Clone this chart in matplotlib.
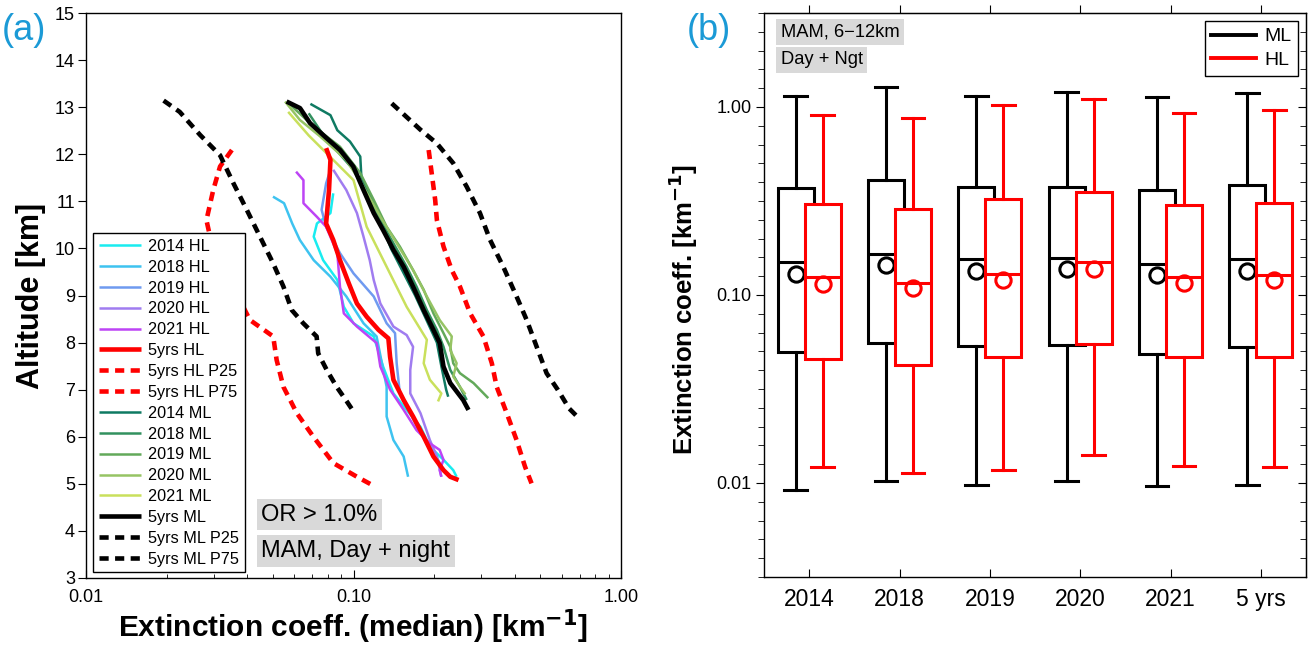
import numpy as np
import matplotlib
matplotlib.use("Agg")
import matplotlib.pyplot as plt
from matplotlib.ticker import FixedLocator, FormatStrFormatter, NullFormatter, LogLocator
from matplotlib.lines import Line2D

matplotlib.rcParams['font.family'] = ['Liberation Sans', 'DejaVu Sans']

# ---------------- (a) vertical profiles of median extinction ----------------
# HL yearly profiles
alt_hl_2014 = [11.17, 10.75, 10.53, 10.25, 9.75, 9.33, 8.76, 8.41, 8.13, 7.49, 6.92, 6.57, 6.21, 5.79, 5.51, 5.29, 5.15]
ext_hl_2014 = [0.084, 0.082, 0.073, 0.071, 0.077, 0.087, 0.092, 0.100, 0.119, 0.129, 0.141, 0.158, 0.178, 0.193, 0.217, 0.236, 0.243]
alt_hl_2018 = [11.10, 10.96, 10.53, 10.18, 9.75, 9.40, 8.98, 8.41, 8.13, 7.63, 7.06, 6.43, 5.93, 5.58, 5.15]
ext_hl_2018 = [0.050, 0.055, 0.059, 0.063, 0.071, 0.082, 0.094, 0.109, 0.122, 0.127, 0.133, 0.133, 0.141, 0.154, 0.160]
alt_hl_2019 = [11.67, 11.38, 10.82, 10.46, 9.90, 9.47, 8.98, 8.41, 8.20, 7.56, 6.92, 6.50, 6.07, 5.72, 5.44]
ext_hl_2019 = [0.082, 0.079, 0.076, 0.079, 0.089, 0.100, 0.119, 0.133, 0.143, 0.145, 0.149, 0.163, 0.178, 0.199, 0.210]
alt_hl_2020 = [11.67, 11.24, 10.75, 10.25, 9.75, 9.33, 8.83, 8.34, 8.16, 7.91, 7.42, 6.92, 6.50, 5.93, 5.58, 5.15]
ext_hl_2020 = [0.084, 0.094, 0.103, 0.109, 0.115, 0.119, 0.126, 0.141, 0.158, 0.167, 0.163, 0.163, 0.178, 0.193, 0.205, 0.213]
alt_hl_2021 = [11.63, 11.45, 10.96, 10.67, 10.46, 9.90, 9.19, 8.62, 8.34, 7.99, 7.49, 7.00, 6.57, 6.14, 5.86, 5.72, 5.51, 5.29, 5.15]
ext_hl_2021 = [0.061, 0.065, 0.065, 0.073, 0.079, 0.087, 0.089, 0.092, 0.103, 0.122, 0.126, 0.137, 0.154, 0.172, 0.193, 0.210, 0.217, 0.210, 0.213]
alt_hl_5yrs = [12.13, 11.88, 11.24, 10.53, 10.18, 9.75, 9.26, 8.83, 8.55, 8.27, 8.09, 7.70, 7.21, 6.78, 6.43, 6.00, 5.58, 5.29, 5.15, 5.08]
ext_hl_5yrs = [0.079, 0.082, 0.081, 0.079, 0.084, 0.089, 0.096, 0.103, 0.112, 0.124, 0.135, 0.137, 0.141, 0.154, 0.167, 0.183, 0.199, 0.217, 0.230, 0.247]
alt_hl_p25 = [12.09, 11.74, 11.24, 10.60, 10.25, 9.82, 9.40, 8.90, 8.48, 8.13, 7.63, 7.06, 6.50, 6.00, 5.44, 5.15, 4.98]
ext_hl_p25 = [0.0351, 0.0317, 0.0299, 0.0282, 0.0291, 0.0317, 0.0345, 0.0376, 0.0410, 0.0501, 0.0516, 0.0547, 0.0614, 0.0708, 0.0841, 0.103, 0.117]
alt_hl_p75 = [12.09, 11.60, 11.03, 10.60, 10.04, 9.54, 9.19, 8.62, 8.13, 7.56, 7.06, 6.50, 5.93, 5.36, 5.01]
ext_hl_p75 = [0.191, 0.196, 0.202, 0.205, 0.217, 0.233, 0.250, 0.273, 0.306, 0.329, 0.343, 0.374, 0.407, 0.438, 0.463]

# ML yearly profiles
alt_ml_2014 = [13.07, 12.83, 12.51, 12.27, 11.95, 11.52, 11.00, 10.00, 9.00, 8.00, 7.50, 7.00, 6.85]
ext_ml_2014 = [0.069, 0.082, 0.087, 0.097, 0.106, 0.107, 0.118, 0.138, 0.170, 0.205, 0.213, 0.222, 0.226]
alt_ml_2018 = [12.87, 12.51, 12.16, 11.67, 11.17, 10.60, 10.11, 9.61, 9.19, 8.69, 8.27, 7.91, 7.42, 7.06, 6.78]
ext_ml_2018 = [0.068, 0.075, 0.084, 0.100, 0.112, 0.126, 0.141, 0.158, 0.172, 0.188, 0.205, 0.217, 0.230, 0.250, 0.265]
alt_ml_2019 = [13.05, 12.59, 12.16, 11.60, 11.03, 10.46, 10.04, 9.54, 9.12, 8.62, 8.20, 7.91, 7.56, 7.35, 7.14, 6.82]
ext_ml_2019 = [0.058, 0.071, 0.089, 0.106, 0.119, 0.133, 0.149, 0.167, 0.183, 0.199, 0.217, 0.230, 0.236, 0.250, 0.281, 0.319]
alt_ml_2020 = [13.12, 12.73, 12.38, 11.88, 11.31, 10.67, 10.11, 9.54, 8.98, 8.48, 8.13, 7.84, 7.56, 7.28, 7.06, 6.90]
ext_ml_2020 = [0.0555, 0.063, 0.075, 0.094, 0.109, 0.126, 0.145, 0.167, 0.188, 0.210, 0.233, 0.230, 0.243, 0.236, 0.250, 0.262]
alt_ml_2021 = [12.90, 12.40, 11.45, 10.46, 9.61, 8.76, 8.06, 7.56, 7.21, 6.92, 6.75]
ext_ml_2021 = [0.057, 0.068, 0.100, 0.112, 0.133, 0.158, 0.188, 0.183, 0.193, 0.213, 0.207]
alt_ml_5yrs = [13.12, 12.98, 12.66, 12.34, 12.09, 11.74, 11.24, 10.75, 10.39, 9.97, 9.61, 9.19, 8.69, 8.27, 7.99, 7.49, 7.14, 6.78, 6.57]
ext_ml_5yrs = [0.0562, 0.0631, 0.0688, 0.0794, 0.0891, 0.0998, 0.109, 0.119, 0.129, 0.141, 0.154, 0.167, 0.183, 0.199, 0.210, 0.217, 0.230, 0.257, 0.269]
alt_ml_p25 = [13.14, 12.90, 12.41, 11.98, 11.38, 10.82, 10.25, 9.68, 9.19, 8.69, 8.41, 8.13, 7.77, 7.42, 7.06, 6.75, 6.50]
ext_ml_p25 = [0.0195, 0.0224, 0.0267, 0.0317, 0.0356, 0.0399, 0.0447, 0.0501, 0.0547, 0.0588, 0.0649, 0.0728, 0.0738, 0.0794, 0.0865, 0.0944, 0.101]
alt_ml_p75 = [13.08, 12.52, 12.23, 11.81, 11.31, 10.75, 10.18, 9.61, 8.98, 8.48, 7.91, 7.35, 7.00, 6.60, 6.45]
ext_ml_p75 = [0.139, 0.178, 0.205, 0.236, 0.265, 0.297, 0.324, 0.363, 0.407, 0.444, 0.484, 0.527, 0.580, 0.640, 0.680]

# ---------------- (b) box statistics, 6-12 km ----------------
box_labels = ['2014', '2018', '2019', '2020', '2021', '5 yrs']
ml_whislo = [0.0092, 0.0102, 0.0098, 0.0102, 0.0096, 0.0097]
ml_q1 = [0.0495, 0.0556, 0.0533, 0.0542, 0.0486, 0.0527]
ml_med = [0.150, 0.166, 0.155, 0.157, 0.147, 0.155]
ml_q3 = [0.371, 0.408, 0.376, 0.376, 0.361, 0.384]
ml_whishi = [1.15, 1.28, 1.15, 1.20, 1.135, 1.18]
ml_mean = [0.130, 0.144, 0.134, 0.137, 0.127, 0.134]
hl_whislo = [0.0122, 0.0113, 0.0117, 0.0141, 0.0123, 0.0122]
hl_q1 = [0.0457, 0.0426, 0.047, 0.0549, 0.047, 0.047]
hl_med = [0.124, 0.116, 0.130, 0.150, 0.124, 0.127]
hl_q3 = [0.303, 0.288, 0.326, 0.351, 0.300, 0.310]
hl_whishi = [0.906, 0.877, 1.03, 1.10, 0.933, 0.964]
hl_mean = [0.115, 0.109, 0.120, 0.137, 0.116, 0.120]

fig = plt.figure(figsize=(13.09, 6.45), dpi=100)
W, H = 1309, 645


def px_axes(x0, y0, x1, y1):
    return fig.add_axes([x0 / W, 1 - y1 / H, (x1 - x0) / W, (y1 - y0) / H])


# ---- panel (a)
ax = px_axes(86, 13, 621, 578)
thin = 1.8
thick = 3.3
dash = (0, (2.0, 1.4))

hl_lines = [
    (ext_hl_2014, alt_hl_2014, '#19ecf0', thin, '-', '2014 HL'),
    (ext_hl_2018, alt_hl_2018, '#3ec3f0', thin, '-', '2018 HL'),
    (ext_hl_2019, alt_hl_2019, '#6f9af0', thin, '-', '2019 HL'),
    (ext_hl_2020, alt_hl_2020, '#a07cf0', thin, '-', '2020 HL'),
    (ext_hl_2021, alt_hl_2021, '#bd44f5', thin, '-', '2021 HL'),
    (ext_hl_5yrs, alt_hl_5yrs, '#ff0000', thick, '-', '5yrs HL'),
    (ext_hl_p25, alt_hl_p25, '#ff0000', thick, dash, '5yrs HL P25'),
    (ext_hl_p75, alt_hl_p75, '#ff0000', thick, dash, '5yrs HL P75'),
]
ml_lines = [
    (ext_ml_2014, alt_ml_2014, '#0f7a62', thin, '-', '2014 ML'),
    (ext_ml_2018, alt_ml_2018, '#32915f', thin, '-', '2018 ML'),
    (ext_ml_2019, alt_ml_2019, '#63a95a', thin, '-', '2019 ML'),
    (ext_ml_2020, alt_ml_2020, '#96c464', thin, '-', '2020 ML'),
    (ext_ml_2021, alt_ml_2021, '#c9e05c', thin, '-', '2021 ML'),
    (ext_ml_5yrs, alt_ml_5yrs, '#000000', thick, '-', '5yrs ML'),
    (ext_ml_p25, alt_ml_p25, '#000000', thick, dash, '5yrs ML P25'),
    (ext_ml_p75, alt_ml_p75, '#000000', thick, dash, '5yrs ML P75'),
]

handles = {}
draw_order = hl_lines[:5] + ml_lines[:5] + [hl_lines[5], ml_lines[5]] + hl_lines[6:] + ml_lines[6:]
for x, y, c, lw, ls, lab in draw_order:
    l, = ax.plot(x, y, color=c, lw=lw, ls=ls, label=lab, solid_capstyle='butt')
    handles[lab] = l

order = [e[5] for e in hl_lines + ml_lines]
leg = ax.legend([handles[k] for k in order], order, loc='lower left',
                bbox_to_anchor=(0.013, 0.01), fontsize=11.7, frameon=True, fancybox=False,
                edgecolor='black', framealpha=1, handlelength=2.6, handletextpad=0.45,
                labelspacing=0.36, borderpad=0.35, borderaxespad=0)
leg.get_frame().set_linewidth(1.0)

ax.set_xscale('log')
ax.set_xlim(0.01, 1.0)
ax.set_ylim(3, 15)
ax.set_xticks([0.01, 0.1, 1.0])
ax.xaxis.set_major_formatter(FormatStrFormatter('%.2f'))
ax.xaxis.set_minor_locator(LogLocator(base=10, subs=np.arange(2, 10)))
ax.xaxis.set_minor_formatter(NullFormatter())
ax.set_yticks(np.arange(3, 16))
ax.tick_params(axis='x', which='major', direction='in', length=6, labelsize=13, pad=8)
ax.tick_params(axis='x', which='minor', direction='in', length=3)
ax.tick_params(axis='y', direction='out', length=6, labelsize=13, pad=2)
for s in ax.spines.values():
    s.set_linewidth(1.0)

gray = '#d9d9d9'
ax.text(0.328, 0.112, 'OR > 1.0%', transform=ax.transAxes, fontsize=17, va='center',
        bbox=dict(boxstyle='square,pad=0.2', facecolor=gray, edgecolor='none'))
ax.text(0.328, 0.048, 'MAM, Day + night', transform=ax.transAxes, fontsize=17, va='center',
        bbox=dict(boxstyle='square,pad=0.2', facecolor=gray, edgecolor='none'))

ax.set_xlabel(r'Extinction coeff. (median) [km$^{\mathbf{-1}}$]', fontsize=21.5, fontweight='bold', labelpad=1)
ax.set_ylabel('Altitude [km]', fontsize=22, fontweight='bold', labelpad=6)

fig.text(24 / W, 1 - 31 / H, '(a)', fontsize=26, color='#1b9ad6', ha='center', va='center')
fig.text(709 / W, 1 - 31 / H, '(b)', fontsize=26, color='#1b9ad6', ha='center', va='center')

# ---- panel (b)
bx = px_axes(764, 13, 1306, 577)
pos = np.arange(1, len(box_labels) + 1)


def stats(lo, q1, med, q3, hi, mean):
    return [dict(whislo=a, q1=b, med=c, q3=d, whishi=e, mean=f, fliers=[])
            for a, b, c, d, e, f in zip(lo, q1, med, q3, hi, mean)]


def draw_boxes(st, offset, color, z):
    lp = dict(color=color, lw=2.2)
    bx.bxp(st, positions=pos + offset, widths=0.4, capwidths=0.25, patch_artist=True,
           showmeans=True, manage_ticks=False,
           boxprops=dict(facecolor='white', edgecolor=color, lw=2.2),
           whiskerprops=lp, capprops=lp, medianprops=lp,
           meanprops=dict(marker='o', markerfacecolor='none', markeredgecolor=color,
                          markersize=11, markeredgewidth=2.2),
           zorder=z)


draw_boxes(stats(ml_whislo, ml_q1, ml_med, ml_q3, ml_whishi, ml_mean), -0.15, 'black', 2)
draw_boxes(stats(hl_whislo, hl_q1, hl_med, hl_q3, hl_whishi, hl_mean), 0.15, '#ff0000', 3)

bx.set_yscale('log')
bx.set_ylim(10 ** -2.5, 10 ** 0.5)
bx.set_xlim(0.5, 6.5)
bx.set_yticks([0.01, 0.1, 1.0])
bx.yaxis.set_major_formatter(FormatStrFormatter('%.2f'))
bx.yaxis.set_minor_locator(FixedLocator(10 ** (np.arange(-25, 6) / 10.0)))
bx.yaxis.set_minor_formatter(NullFormatter())
bx.set_xticks(pos)
bx.set_xticklabels(box_labels)
bx.tick_params(axis='x', direction='in', length=6, labelsize=16.5, pad=8)
bx.tick_params(axis='y', which='major', direction='out', length=6, labelsize=13, pad=3)
bx.tick_params(axis='y', which='minor', direction='out', length=4)
rt = bx.secondary_yaxis('right')
rt.set_yticks([0.01, 0.1, 1.0])
rt.yaxis.set_minor_locator(FixedLocator(10 ** (np.arange(-25, 6) / 10.0)))
rt.tick_params(axis='y', which='major', direction='in', length=6, labelright=False)
rt.tick_params(axis='y', which='minor', direction='in', length=4, labelright=False)
top = bx.secondary_xaxis('top')
top.set_xticks(pos)
top.tick_params(direction='out', length=6, labeltop=False)
for s in bx.spines.values():
    s.set_linewidth(1.0)

bx.text(0.031, 0.967, 'MAM, 6\u221212km', transform=bx.transAxes, fontsize=13.2, va='center',
        bbox=dict(boxstyle='square,pad=0.25', facecolor=gray, edgecolor='none'))
bx.text(0.031, 0.917, 'Day + Ngt', transform=bx.transAxes, fontsize=13.2, va='center',
        bbox=dict(boxstyle='square,pad=0.25', facecolor=gray, edgecolor='none'))

blg = bx.legend([Line2D([], [], color='black', lw=2.8), Line2D([], [], color='#ff0000', lw=2.8)],
                ['ML', 'HL'], loc='upper right', bbox_to_anchor=(0.985, 0.986), fontsize=14,
                frameon=True, fancybox=False, edgecolor='black', framealpha=1,
                handlelength=2.3, handletextpad=0.4, labelspacing=0.3, borderpad=0.35, borderaxespad=0)
blg.get_frame().set_linewidth(1.0)

bx.set_ylabel(r'Extinction coeff. [km$^{\mathbf{-1}}$]', fontsize=18.5, fontweight='bold')
bx.yaxis.set_label_coords(-0.118, 0.475)

fig.savefig('out.png', dpi=100)
